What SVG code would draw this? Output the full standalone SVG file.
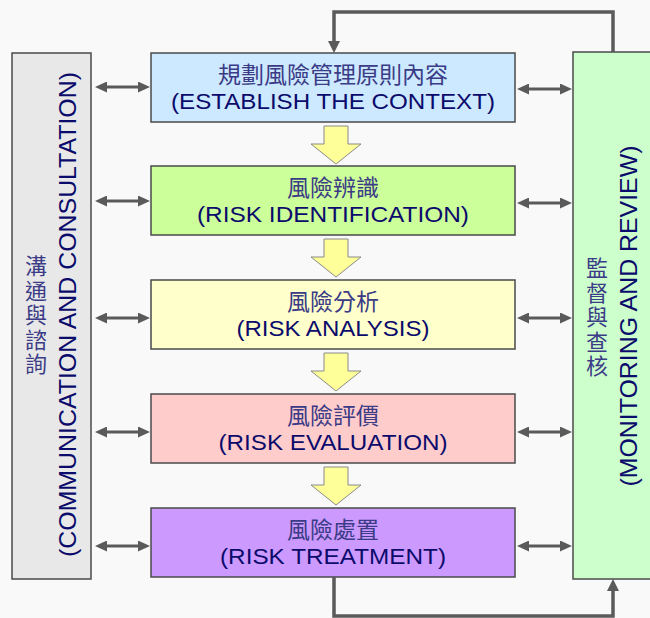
<svg xmlns="http://www.w3.org/2000/svg" width="650" height="618" viewBox="0 0 650 618">
  <defs>
    <style>
      .box { stroke: #4a4a4a; stroke-width: 1.5; }
      .zh { font-family: "Noto Sans CJK TC", "Noto Sans CJK SC", sans-serif; font-size: 23px; fill: #3b3b86; text-anchor: middle; }
      .zhv { font-family: "Noto Sans CJK TC", "Noto Sans CJK SC", sans-serif; font-size: 22px; fill: #3b3b86; writing-mode: vertical-rl; text-orientation: upright; letter-spacing: 2.5px; }
      .en { font-family: "Liberation Sans", Arial, sans-serif; font-size: 22px; fill: #0b0b6b; text-anchor: middle; }
      .env { font-family: "Liberation Sans", Arial, sans-serif; font-size: 24px; fill: #0b0b6b; text-anchor: middle; }
      .link { fill: none; stroke: #5a5a5a; stroke-width: 3; }
      .loop { fill: none; stroke: #5a5a5a; stroke-width: 3.5; stroke-linejoin: miter; }
      .step { fill: #ffff99; stroke: #8a8a8a; stroke-width: 1; }
    </style>
    <marker id="head" viewBox="0 0 12 11" refX="0" refY="5.5" markerWidth="12" markerHeight="11" markerUnits="userSpaceOnUse" orient="auto-start-reverse">
      <path d="M0,0 L12,5.5 L0,11 z" fill="#5a5a5a"/>
    </marker>
    <marker id="headLg" viewBox="0 0 12 12" refX="0" refY="6" markerWidth="12" markerHeight="12" markerUnits="userSpaceOnUse" orient="auto">
      <path d="M0,0 L12,6 L0,12 z" fill="#5a5a5a"/>
    </marker>
  </defs>

  <rect x="0" y="0" width="650" height="618" fill="#f9f9f9"/>

  <!-- side panels -->
  <g id="communication">
    <rect class="box" x="12" y="53" width="79" height="526" fill="#e8e8e8"/>
    <text class="zhv" x="36" y="255">溝通與諮詢</text>
    <text class="env" transform="translate(76,314.5) rotate(-90)" textLength="485" lengthAdjust="spacingAndGlyphs">(COMMUNICATION AND CONSULTATION)</text>
  </g>

  <g id="monitoring">
    <rect class="box" x="573" y="52" width="90" height="527" fill="#ccffcc"/>
    <text class="zhv" x="597" y="257">監督與查核</text>
    <text class="env" transform="translate(637,316) rotate(-90)" textLength="341" lengthAdjust="spacingAndGlyphs">(MONITORING AND REVIEW)</text>
  </g>

  <!-- process steps -->
  <g id="context">
    <rect class="box" x="151" y="53" width="364" height="69" fill="#cce9ff"/>
    <text class="zh" x="333" y="83">規劃風險管理原則內容</text>
    <text class="en" x="333" y="109" textLength="324" lengthAdjust="spacingAndGlyphs">(ESTABLISH THE CONTEXT)</text>
  </g>

  <g id="identification">
    <rect class="box" x="151" y="166" width="364" height="69" fill="#ccff99"/>
    <text class="zh" x="333" y="196">風險辨識</text>
    <text class="en" x="333" y="222" textLength="272" lengthAdjust="spacingAndGlyphs">(RISK IDENTIFICATION)</text>
  </g>

  <g id="analysis">
    <rect class="box" x="151" y="280" width="364" height="69" fill="#ffffcc"/>
    <text class="zh" x="333" y="310">風險分析</text>
    <text class="en" x="333" y="336" textLength="193" lengthAdjust="spacingAndGlyphs">(RISK ANALYSIS)</text>
  </g>

  <g id="evaluation">
    <rect class="box" x="151" y="394" width="364" height="69" fill="#ffcccc"/>
    <text class="zh" x="333" y="424">風險評價</text>
    <text class="en" x="333" y="450" textLength="229" lengthAdjust="spacingAndGlyphs">(RISK EVALUATION)</text>
  </g>

  <g id="treatment">
    <rect class="box" x="151" y="508" width="364" height="69" fill="#cc99ff"/>
    <text class="zh" x="333" y="538">風險處置</text>
    <text class="en" x="333" y="564" textLength="226" lengthAdjust="spacingAndGlyphs">(RISK TREATMENT)</text>
  </g>

  <g id="connectors">
    <!-- flow between steps -->
    <path class="step" d="M324,126 H348 V144 H361 L336,164 L311,144 H324 Z"/>
    <path class="step" d="M324,239 H348 V257 H361 L336,277 L311,257 H324 Z"/>
    <path class="step" d="M324,353 H348 V371 H361 L336,391 L311,371 H324 Z"/>
    <path class="step" d="M324,467 H348 V485 H361 L336,505 L311,485 H324 Z"/>

    <!-- exchanges with the side panels -->
    <line class="link" x1="107" y1="87" x2="138" y2="87" marker-start="url(#head)" marker-end="url(#head)"/>
    <line class="link" x1="107" y1="201" x2="138" y2="201" marker-start="url(#head)" marker-end="url(#head)"/>
    <line class="link" x1="107" y1="318" x2="138" y2="318" marker-start="url(#head)" marker-end="url(#head)"/>
    <line class="link" x1="107" y1="432" x2="138" y2="432" marker-start="url(#head)" marker-end="url(#head)"/>
    <line class="link" x1="107" y1="546" x2="138" y2="546" marker-start="url(#head)" marker-end="url(#head)"/>

    <line class="link" x1="529" y1="89" x2="560" y2="89" marker-start="url(#head)" marker-end="url(#head)"/>
    <line class="link" x1="529" y1="203" x2="560" y2="203" marker-start="url(#head)" marker-end="url(#head)"/>
    <line class="link" x1="529" y1="318" x2="560" y2="318" marker-start="url(#head)" marker-end="url(#head)"/>
    <line class="link" x1="529" y1="432" x2="560" y2="432" marker-start="url(#head)" marker-end="url(#head)"/>
    <line class="link" x1="529" y1="546" x2="560" y2="546" marker-start="url(#head)" marker-end="url(#head)"/>

    <!-- review loop -->
    <path class="loop" d="M613,52 V12 H334 V41" marker-end="url(#headLg)"/>
    <path class="loop" d="M334,577 V616 H613 V591" marker-end="url(#headLg)"/>
  </g>
</svg>
